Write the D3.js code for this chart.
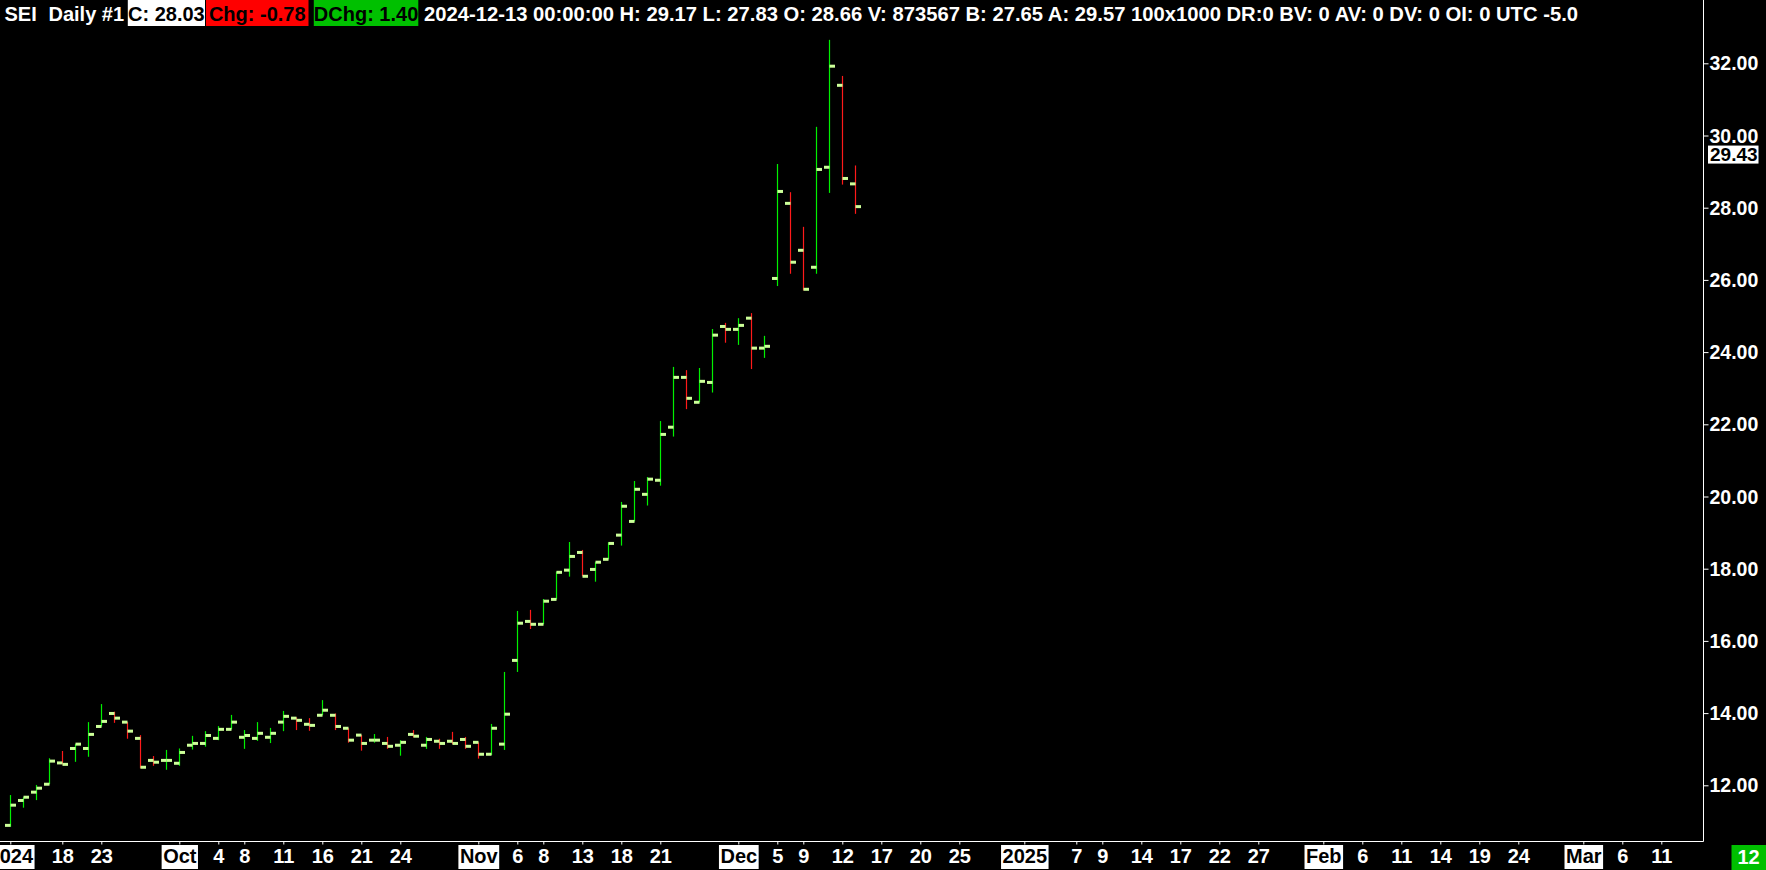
<!DOCTYPE html>
<html><head><meta charset="utf-8">
<script src="https://cdn.jsdelivr.net/npm/d3@7"></script>
<style>html,body{margin:0;padding:0;background:#000;overflow:hidden}svg{display:block}</style>
</head><body>
<svg id="c" width="1766" height="870"></svg>
<script>
// ---------- data ----------
const dates = ["2024-09-12","2024-09-13","2024-09-16","2024-09-17","2024-09-18","2024-09-19","2024-09-20","2024-09-23","2024-09-24","2024-09-25","2024-09-26","2024-09-27","2024-09-30",
"2024-10-01","2024-10-02","2024-10-03","2024-10-04","2024-10-07","2024-10-08","2024-10-09","2024-10-10","2024-10-11","2024-10-14","2024-10-15","2024-10-16","2024-10-17","2024-10-18","2024-10-21","2024-10-22","2024-10-23","2024-10-24","2024-10-25","2024-10-28","2024-10-29","2024-10-30","2024-10-31",
"2024-11-01","2024-11-04","2024-11-05","2024-11-06","2024-11-07","2024-11-08","2024-11-11","2024-11-12","2024-11-13","2024-11-14","2024-11-15","2024-11-18","2024-11-19","2024-11-20","2024-11-21","2024-11-22","2024-11-25","2024-11-26","2024-11-27","2024-11-29",
"2024-12-02","2024-12-03","2024-12-04","2024-12-05","2024-12-06","2024-12-09","2024-12-10","2024-12-11","2024-12-12","2024-12-13"];
const openV  = [10.89,11.58,11.81,12.03,12.62,13.02,13.02,13.63,13.99,13.75,13.30,12.69,12.69,12.61,13.11,13.16,13.30,13.55,13.33,13.30,13.33,13.75,13.86,13.69,13.94,13.94,13.58,13.39,13.25,13.16,13.11,13.41,13.11,13.22,13.22,13.27,13.19,12.86,13.14,15.46,16.54,16.46,17.15,17.96,18.45,17.98,18.26,18.93,19.31,20.06,20.45,21.92,23.30,22.61,23.16,24.71,24.63,24.94,24.11,26.04,28.12,26.82,26.35,29.12,31.39,28.66];
const highV  = [11.73,11.67,12.01,12.75,12.95,13.14,13.75,14.25,14.04,13.75,13.39,12.81,12.98,13.02,13.37,13.50,13.64,13.95,13.53,13.75,13.59,14.06,13.88,13.86,14.36,13.99,13.58,13.39,13.42,13.34,13.25,13.53,13.34,13.29,13.48,13.34,13.19,13.70,15.14,16.83,16.86,17.16,17.92,18.74,18.52,18.18,18.73,19.85,20.43,20.54,22.09,23.59,23.50,23.56,24.64,24.81,24.94,25.08,24.45,29.21,28.43,27.47,30.24,32.65,31.65,29.17];
const lowV   = [10.85,11.38,11.59,12.03,12.58,12.65,12.79,13.63,13.73,13.29,12.47,12.54,12.43,12.54,12.99,13.07,13.25,13.55,13.01,13.23,13.17,13.50,13.53,13.51,13.94,13.53,13.18,12.96,13.18,13.01,12.82,13.33,13.01,13.01,13.14,13.01,12.74,12.84,12.98,15.14,16.33,16.46,17.15,17.78,17.79,17.64,18.26,18.64,19.31,19.75,20.30,21.66,22.42,22.61,22.88,24.26,24.20,23.53,23.84,25.83,26.17,25.71,26.17,28.41,28.64,27.83];
const closeV = [11.45,11.67,11.92,12.67,12.58,13.14,13.41,13.77,13.86,13.50,12.50,12.64,12.69,12.91,13.16,13.38,13.55,13.75,13.38,13.44,13.44,13.91,13.80,13.66,14.08,13.63,13.25,13.16,13.25,13.08,13.19,13.36,13.27,13.16,13.16,13.08,12.86,13.58,13.97,16.49,16.46,17.10,17.90,18.34,17.79,18.18,18.70,19.73,20.20,20.48,21.72,23.30,22.72,23.19,24.47,24.63,24.74,24.11,24.16,28.45,26.49,25.74,29.06,31.92,28.81,28.03];

const tickDates  = ["2024-09-12","2024-09-18","2024-09-23","2024-10-01","2024-10-04","2024-10-08","2024-10-11","2024-10-16","2024-10-21","2024-10-24","2024-11-01","2024-11-06","2024-11-08","2024-11-13","2024-11-18","2024-11-21","2024-12-02","2024-12-05","2024-12-09","2024-12-12","2024-12-17","2024-12-20","2024-12-25","2025-01-01","2025-01-07","2025-01-09","2025-01-14","2025-01-17","2025-01-22","2025-01-27","2025-02-03","2025-02-06","2025-02-11","2025-02-14","2025-02-19","2025-02-24","2025-03-03","2025-03-06","2025-03-11"];
const tickLabels = ["2024","18","23","Oct","4","8","11","16","21","24","Nov","6","8","13","18","21","Dec","5","9","12","17","20","25","2025","7","9","14","17","22","27","Feb","6","11","14","19","24","Mar","6","11"];
const boxedLabels = ["2024","Oct","Nov","Dec","2025","Feb","Mar"];
const yTicks = [12,14,16,18,20,22,24,26,28,30,32];
const lastPrice = 29.43;
const header = {sym:"SEI", per:"Daily #1", c:"C: 28.03", chg:"Chg: -0.78", dchg:"DChg: 1.40",
  rest:"2024-12-13 00:00:00 H: 29.17 L: 27.83 O: 28.66 V: 873567 B: 27.65 A: 29.57 100x1000 DR:0 BV: 0 AV: 0 DV: 0 OI: 0 UTC -5.0"};
const cornerLabel = "12";

// ---------- layout ----------
const W = 1766, H = 870;
const axisX = 1703.5, axisY = 841.5;
const FONT = "'Liberation Sans', Arial, sans-serif";
const GREEN = "#00f000", RED = "#ff1a1a", TICKC = "#ccff99";

const fmt = d3.timeFormat("%Y-%m-%d");
const futureDates = d3.timeDay.range(new Date(2024,11,16), new Date(2025,2,15))
  .filter(d => d.getDay() !== 0 && d.getDay() !== 6).map(fmt);
const allDates = dates.concat(futureDates);

const x = d3.scalePoint().domain(allDates).range([10.3, 10.3 + (allDates.length - 1) * 13]);
const y = d3.scaleLinear().domain([12, 32]).range([785.3, 63.3]);

const svg = d3.select("#c");
svg.append("rect").attr("width", W).attr("height", H).attr("fill", "#000");

const bars = dates.map((d,i)=>({d, o:openV[i], h:highV[i], l:lowV[i], c:closeV[i]}));

const g = svg.append("g");
const bar = g.selectAll("g.bar").data(bars).join("g").attr("class","bar");
bar.append("line")
  .attr("x1", b => Math.round(x(b.d)) + 0.5).attr("x2", b => Math.round(x(b.d)) + 0.5)
  .attr("y1", b => y(b.h)).attr("y2", b => y(b.l))
  .attr("stroke", b => b.c >= b.o ? GREEN : RED).attr("stroke-width", 1.2);
bar.append("rect")
  .attr("x", b => Math.round(x(b.d)) - 5).attr("width", 5.5)
  .attr("y", b => y(b.o) - 1.5).attr("height", 3).attr("fill", TICKC);
bar.append("rect")
  .attr("x", b => Math.round(x(b.d)) + 0.5).attr("width", 5.5)
  .attr("y", b => y(b.c) - 1.5).attr("height", 3).attr("fill", TICKC);

// axes lines
svg.append("line").attr("x1",0).attr("x2",axisX).attr("y1",axisY).attr("y2",axisY).attr("stroke","#fff").attr("stroke-width",1);
svg.append("line").attr("x1",axisX).attr("x2",axisX).attr("y1",0).attr("y2",axisY).attr("stroke","#fff").attr("stroke-width",1);

// y axis
const yAxis = d3.axisRight(y).tickValues(yTicks).tickFormat(d3.format(".2f")).tickSize(5).tickPadding(1);
const ya = svg.append("g").attr("transform", `translate(${axisX},0)`).call(yAxis);
ya.select(".domain").remove();
ya.selectAll(".tick line").attr("stroke","#fff");
ya.selectAll(".tick text").attr("fill","#fff").attr("font-family",FONT).attr("font-weight","bold")
  .attr("font-size","19.5px").attr("dy","0.34em");

// last price box
const lp = svg.append("g").attr("transform", `translate(${axisX+4.5},${y(lastPrice)-2})`);
lp.append("rect").attr("x",0).attr("y",-8.5).attr("width",50.5).attr("height",18).attr("fill","#fff");
lp.append("text").attr("x",2).attr("y",7).attr("fill","#000").attr("font-family",FONT).attr("font-weight","bold")
  .attr("font-size","19px").text(d3.format(".2f")(lastPrice));

// x axis
const tickMap = new Map(tickDates.map((d,i)=>[d, tickLabels[i]]));
const xAxis = d3.axisBottom(x).tickValues(tickDates).tickFormat(d => tickMap.get(d)).tickSize(3).tickPadding(4);
const xa = svg.append("g").attr("transform", `translate(0,${axisY})`).call(xAxis);
xa.select(".domain").remove();
xa.selectAll(".tick line").attr("stroke","#fff");
xa.selectAll(".tick text").attr("fill","#fff").attr("font-family",FONT).attr("font-weight","bold")
  .attr("font-size","20px").attr("dy", null).attr("y", 21.5);
xa.selectAll(".tick").each(function(d){
  const lbl = tickMap.get(d);
  if (boxedLabels.includes(lbl)) {
    const t = d3.select(this).select("text");
    const w = t.node().getComputedTextLength();
    d3.select(this).insert("rect","text").attr("x",-w/2-1.5).attr("y",3.5).attr("width",w+3).attr("height",24).attr("fill","#fff");
    t.attr("fill","#000");
  }
});

// corner label
const cl = svg.append("g");
cl.append("rect").attr("x",1731.5).attr("y",845).attr("width",34.5).attr("height",25).attr("fill","#00c000");
cl.append("text").attr("x",1748.5).attr("y",864).attr("text-anchor","middle").attr("fill","#fff")
  .attr("font-family",FONT).attr("font-weight","bold").attr("font-size","20px").text(cornerLabel);

// header
const hd = svg.append("g").attr("font-family",FONT).attr("font-weight","bold").attr("font-size","20px");
const base = 21;
hd.append("text").attr("x",4.5).attr("y",base).attr("fill","#fff").text(header.sym);
hd.append("text").attr("x",48.5).attr("y",base).attr("fill","#fff").text(header.per);
const boxes = [
  {t:header.c, x0:127.8, x1:205, bg:"#fff", fg:"#000"},
  {t:header.chg, x0:206, x1:308.5, bg:"#ff0000", fg:"#000"},
  {t:header.dchg, x0:313.8, x1:418.3, bg:"#00c000", fg:"#000"}
];
boxes.forEach(b=>{
  hd.append("rect").attr("x",b.x0).attr("y",0).attr("width",b.x1-b.x0).attr("height",26).attr("fill",b.bg);
  hd.append("text").attr("x",(b.x0+b.x1)/2).attr("y",base).attr("text-anchor","middle").attr("fill",b.fg).text(b.t);
});
hd.append("text").attr("x",424).attr("y",base).attr("fill","#fff")
  .attr("textLength",1154).attr("lengthAdjust","spacingAndGlyphs").text(header.rest);
</script>
</body></html>
